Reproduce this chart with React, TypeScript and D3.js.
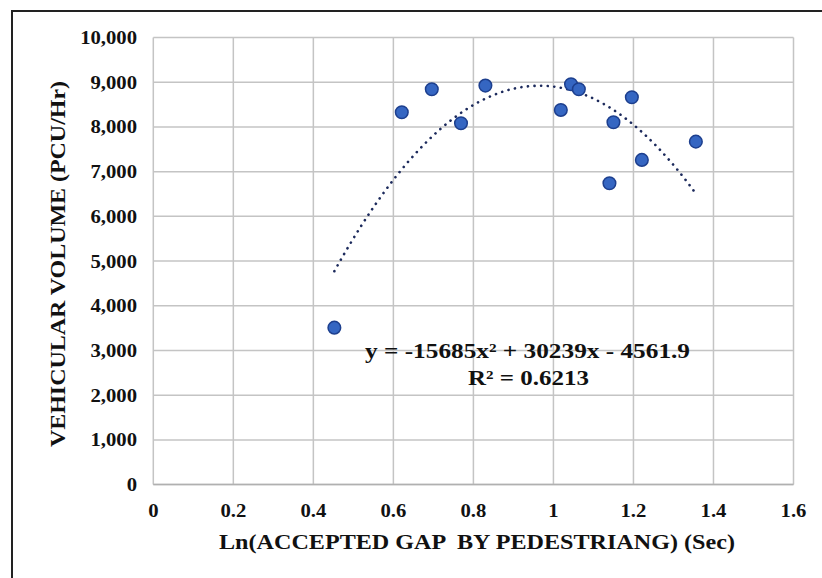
import React from "react";
import * as d3 from "d3";

// Ln(accepted gap) vs. vehicular volume observations
const gapLn: number[] = [0.4525, 0.621, 0.696, 0.769, 0.83, 1.0185, 1.044, 1.0635, 1.14, 1.15, 1.196, 1.221, 1.356];
const volume: number[] = [3510, 8329, 8843, 8083, 8924, 8380, 8955, 8843, 6740, 8105, 8664, 7262, 7671];

const xTicks: number[] = [0, 0.2, 0.4, 0.6, 0.8, 1, 1.2, 1.4, 1.6];
const yTicks: number[] = [0, 1000, 2000, 3000, 4000, 5000, 6000, 7000, 8000, 9000, 10000];

const equationText = "y = -15685x\u00B2 + 30239x - 4561.9";
const r2Text = "R\u00B2 = 0.6213";
const xTitle = "Ln(ACCEPTED GAP  BY PEDESTRIANG) (Sec)";
const yTitle = "VEHICULAR VOLUME (PCU/Hr)";

// least-squares quadratic fit: returns [a, b, c] for a*x^2 + b*x + c
function quadFit(xs: number[], ys: number[]): [number, number, number] {
  let s0 = 0, s1 = 0, s2 = 0, s3 = 0, s4 = 0, t0 = 0, t1 = 0, t2 = 0;
  xs.forEach((x, i) => {
    const y = ys[i];
    s0 += 1; s1 += x; s2 += x * x; s3 += x * x * x; s4 += x * x * x * x;
    t0 += y; t1 += x * y; t2 += x * x * y;
  });
  const M = [
    [s4, s3, s2, t2],
    [s3, s2, s1, t1],
    [s2, s1, s0, t0],
  ];
  for (let i = 0; i < 3; i++) {
    for (let k = i + 1; k < 3; k++) {
      const f = M[k][i] / M[i][i];
      for (let j = i; j < 4; j++) M[k][j] -= f * M[i][j];
    }
  }
  const sol = [0, 0, 0];
  for (let i = 2; i >= 0; i--) {
    let s = M[i][3];
    for (let j = i + 1; j < 3; j++) s -= M[i][j] * sol[j];
    sol[i] = s / M[i][i];
  }
  return [sol[0], sol[1], sol[2]];
}

export default function App() {
  const W = 822, H = 578;
  const left = 153.3, right = 793.5, top = 37.5, bottom = 484.6;
  const x = d3.scaleLinear().domain([0, 1.6]).range([left, right]);
  const y = d3.scaleLinear().domain([0, 10000]).range([bottom, top]);

  const [a, b, c] = quadFit(gapLn, volume);
  const xMin = d3.min(gapLn) as number;
  const xMax = d3.max(gapLn) as number;
  const trendX = d3.range(0, 101).map((i) => xMin + ((xMax - xMin) * i) / 100);
  const line = d3
    .line<number>()
    .x((v) => x(v))
    .y((v) => y(a * v * v + b * v + c))
    .curve(d3.curveLinear);

  const fmt = d3.format(",");
  const font = "'Liberation Serif', 'Times New Roman', serif";
  const tickScale = 1.15;

  return (
    <svg
      width={W}
      height={H}
      style={{ position: "absolute", left: 0, top: 0, background: "#fff" }}
      fontFamily={font}
    >
      <rect x={0} y={0} width={W} height={H} fill="#fff" />
      {/* outer frame */}
      <rect x={12} y={11} width={W} height={H} fill="none" stroke="#222" strokeWidth={2} />

      {/* grid */}
      {xTicks.map((t) => (
        <line key={"gx" + t} x1={x(t)} x2={x(t)} y1={top} y2={bottom} stroke="#c4c4c4" strokeWidth={1.5} />
      ))}
      {yTicks.map((t) => (
        <line key={"gy" + t} x1={left} x2={right} y1={y(t)} y2={y(t)} stroke="#c4c4c4" strokeWidth={1.5} />
      ))}
      <line x1={left} x2={right} y1={bottom} y2={bottom} stroke="#b0b0b0" strokeWidth={1.5} />

      {/* tick labels */}
      {yTicks.map((t) => (
        <text
          key={"ty" + t}
          transform={`translate(137,${y(t) + 6.5}) scale(${tickScale},1)`}
          textAnchor="end"
          fontSize={18}
          fontWeight="bold"
          fill="#111"
        >
          {fmt(t)}
        </text>
      ))}
      {xTicks.map((t) => (
        <text
          key={"tx" + t}
          transform={`translate(${x(t)},517) scale(${tickScale},1)`}
          textAnchor="middle"
          fontSize={18}
          fontWeight="bold"
          fill="#111"
        >
          {String(t)}
        </text>
      ))}

      {/* axis titles */}
      <text
        x={219}
        y={549}
        fontSize={22}
        fontWeight="bold"
        fill="#111"
        textLength={516}
        lengthAdjust="spacingAndGlyphs"
        style={{ whiteSpace: "pre" }}
      >
        {xTitle}
      </text>
      <text
        transform={`translate(65,447) rotate(-90)`}
        fontSize={21}
        fontWeight="bold"
        fill="#111"
        textLength={366}
        lengthAdjust="spacingAndGlyphs"
      >
        {yTitle}
      </text>

      {/* polynomial trendline */}
      <path
        d={line(trendX) || ""}
        fill="none"
        stroke="#1c2a5c"
        strokeWidth={2.6}
        strokeDasharray="0.1 6.5"
        strokeLinecap="round"
      />

      {/* observations */}
      {gapLn.map((g, i) => (
        <circle key={"p" + i} cx={x(g)} cy={y(volume[i])} r={6.3} fill="#3566c2" stroke="#1d3f8e" strokeWidth={1.5} />
      ))}

      {/* equation */}
      <text x={365} y={358} fontSize={22} fontWeight="bold" fill="#111" textLength={325} lengthAdjust="spacingAndGlyphs">
        {equationText}
      </text>
      <text x={468} y={385} fontSize={22} fontWeight="bold" fill="#111" textLength={121} lengthAdjust="spacingAndGlyphs">
        {r2Text}
      </text>
    </svg>
  );
}
